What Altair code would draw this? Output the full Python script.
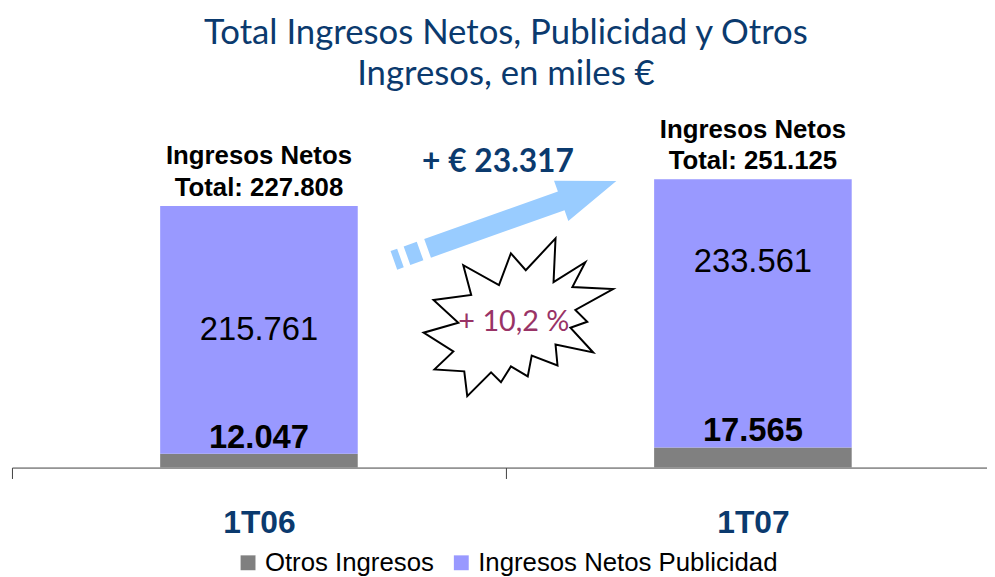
import math
import altair as alt
import pandas as pd

# ---------------- data ----------------
periods = ["1T06", "1T07"]
otros = [12047, 17565]
publicidad = [215761, 233561]
totals = [227808, 251125]
series_names = ["Otros Ingresos", "Ingresos Netos Publicidad"]
series_colors = ["#808080", "#9999FF"]
pub_label_frac = [0.5, 0.69]


def fmt(v):
    return f"{v:,}".replace(",", ".")


diff = totals[1] - totals[0]
pct = diff / totals[0] * 100

bars = pd.DataFrame({
    "periodo": periods * 2,
    "serie": [series_names[0]] * 2 + [series_names[1]] * 2,
    "valor": otros + publicidad,
    "orden": [0, 0, 1, 1],
})

labels = pd.DataFrame({
    "periodo": periods,
    "otros": otros,
    "otros_txt": [fmt(v) for v in otros],
    "pub_pos": [o + f * p for o, p, f in zip(otros, publicidad, pub_label_frac)],
    "pub_txt": [fmt(v) for v in publicidad],
    "total": totals,
    "total_txt": [["Ingresos Netos", "Total: " + fmt(t)] for t in totals],
})

one = pd.DataFrame({"k": [0]})

# ---------------- geometry of decorations ----------------
W, H = 996, 369
Y_MAX = 318900
NAVY = "#0B3A6E"


def arrow_path():
    ang = math.radians(-19.6)
    ux, uy = math.cos(ang), math.sin(ang)
    nx, ny = -uy, ux

    def pt(t, s):
        return (t * ux + s * nx, t * uy + s * ny)

    polys = [
        [(0, -10), (143, -10), (143, -21.5), (202, 0), (143, 21.5), (143, 10), (0, 10)],
        [(-22, -10), (-8, -10), (-8, 10), (-22, 10)],
        [(-36, -10), (-29, -10), (-29, 10), (-36, 10)],
    ]
    out = []
    for poly in polys:
        pts = [pt(t, s) for t, s in poly]
        out.append("M" + " L".join(f"{x:.1f},{y:.1f}" for x, y in pts) + " Z")
    return " ".join(out)


star_pts = [(560, 238), (558, 282), (590, 262), (577, 287), (618, 289), (580, 310),
            (592, 322), (575, 328), (598, 353), (560, 345), (562, 366), (536, 356),
            (532, 377), (515, 367), (505, 383), (495, 373), (471, 397), (468, 372),
            (438, 370), (457, 352), (427, 333), (462, 323), (437, 300), (475, 295),
            (467, 265), (503, 285), (515, 253), (530, 270)]
STAR_C = (520, 318)
star_path = "M" + " L".join(f"{x - STAR_C[0]},{y - STAR_C[1]}" for x, y in star_pts) + " Z"

OX, OY = 12, 100  # plot origin on page

x_scale = alt.Scale(domain=periods, paddingInner=0, paddingOuter=0)
x_enc = alt.X(
    "periodo:N",
    scale=x_scale,
    axis=alt.Axis(title=None, labelAngle=0, tickBand="extent", tickSize=11,
                  domainColor="#404040", tickColor="#404040", labelPadding=29,
                  labelFont="Liberation Sans", labelFontSize=32, labelFontWeight="bold",
                  labelColor=NAVY, grid=False),
)
y_scale = alt.Scale(domain=[0, Y_MAX], nice=False, zero=True)

base = alt.Chart(bars)
bar_layer = base.mark_bar(width=alt.RelativeBandSize(0.4)).encode(
    x=x_enc,
    y=alt.Y("sum(valor):Q", stack="zero", scale=y_scale, axis=None),
    color=alt.Color("serie:N", scale=alt.Scale(domain=series_names, range=series_colors),
                    legend=alt.Legend(title=None, orient="none", legendX=225, legendY=452,
                                      direction="horizontal", symbolType="square",
                                      symbolSize=225, symbolStrokeWidth=0,
                                      labelFont="Liberation Sans", labelFontSize=26,
                                      labelColor="black", columnPadding=14, labelOffset=4,
                                      labelLimit=0)),
    order=alt.Order("orden:Q"),
)

lab = alt.Chart(labels)
otros_lab = lab.mark_text(baseline="alphabetic", dy=-6, fontSize=33, fontWeight="bold",
                          font="Liberation Sans", color="black").encode(
    x=alt.X("periodo:N", scale=x_scale),
    y=alt.Y("otros:Q", scale=y_scale), text="otros_txt:N")
pub_lab = lab.mark_text(baseline="middle", fontSize=33, font="Liberation Sans", color="black").encode(
    x=alt.X("periodo:N"), y=alt.Y("pub_pos:Q", scale=y_scale), text="pub_txt:N")
tot_lab = lab.mark_text(baseline="bottom", dy=-37, fontSize=26, fontWeight="bold",
                        font="Liberation Sans", color="black", lineHeight=32).encode(
    x=alt.X("periodo:N"), y=alt.Y("total:Q", scale=y_scale), text="total_txt")

deco = alt.Chart(one)
arrow = deco.mark_point(shape=arrow_path(), size=4, filled=True, fill="#99CCFF",
                        strokeWidth=0, opacity=1).encode(
    x=alt.value(431 - OX), y=alt.value(248 - OY))
star = deco.mark_point(shape=star_path, size=4, filled=True, fill="white", stroke="black",
                       strokeWidth=2, opacity=1).encode(
    x=alt.value(STAR_C[0] - OX), y=alt.value(STAR_C[1] - OY))
diff_txt = deco.mark_text(fontSize=32, font="Lato", fontWeight="bold", color=NAVY,
                          baseline="middle").encode(
    x=alt.value(502 - OX), y=alt.value(161 - OY),
    text=alt.value("+ € " + fmt(diff)))
pct_txt = deco.mark_text(fontSize=29, font="Lato", color="#993366", baseline="middle").encode(
    x=alt.value(518 - OX), y=alt.value(322 - OY),
    text=alt.value("+ " + f"{pct:.1f}".replace(".", ",") + " %"))

chart = alt.layer(bar_layer, otros_lab, pub_lab, tot_lab, arrow, star, diff_txt, pct_txt).properties(
    width=W, height=H,
    title=alt.TitleParams(["Total Ingresos Netos, Publicidad y Otros", "Ingresos, en miles €"],
                          font="Lato", fontSize=35, fontWeight="normal", color=NAVY,
                          anchor="middle", offset=10, lineHeight=41),
    autosize=alt.AutoSizeParams(type="none"),
    padding={"left": 4, "top": 92, "right": -13, "bottom": 108},
).configure(background="white").configure_view(stroke=None)

chart.save("out.html", embed_options={"renderer": "svg", "actions": False})
